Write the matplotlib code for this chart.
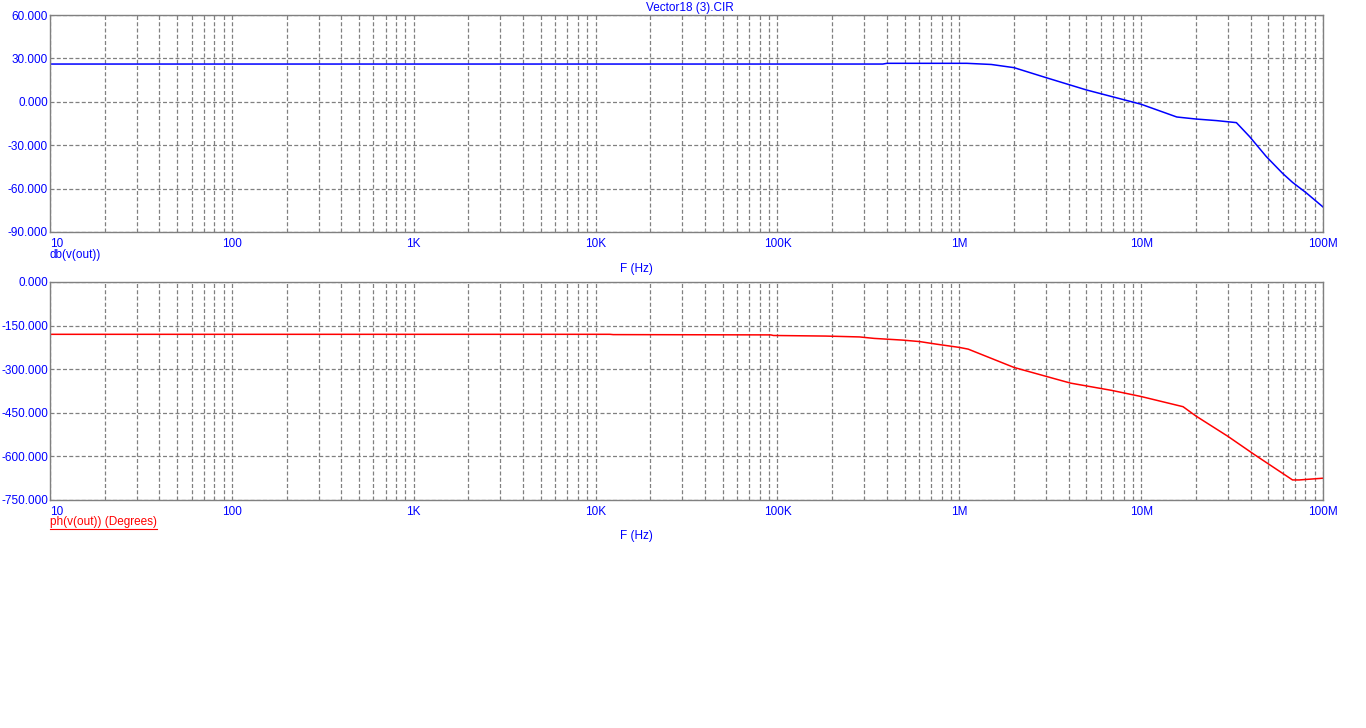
import matplotlib
matplotlib.use("Agg")
import matplotlib.pyplot as plt
from matplotlib.lines import Line2D
import numpy as np

plt.rcParams['font.family'] = ['Liberation Sans', 'DejaVu Sans']

# magnitude trace (dB)
f_db = [10, 380e3, 400e3, 1.1e6, 1.5e6, 2e6, 3e6, 5e6, 10e6, 15.7e6, 20e6, 26e6,
        33.4e6, 39.5e6, 48.8e6, 60e6, 68e6, 81e6, 100e6]
db = [26.1, 26.1, 26.6, 26.6, 25.8, 23.6, 16.7, 8.2, -1.7, -10.5, -11.9, -13.0,
      -14.4, -24.1, -37.9, -49.5, -55.7, -63.0, -72.7]

# phase trace (degrees)
f_ph = [10, 12e3, 12.5e3, 92e3, 95e3, 184e3, 283e3, 340e3, 490e3, 606e3, 733e3,
        1e6, 1.12e6, 2e6, 3.4e6, 4.1e6, 6.9e6, 10e6, 17e6, 20e6, 30e6, 42e6,
        68e6, 74e6, 100e6]
ph = [-180, -180, -181, -182, -184, -186, -189, -194, -200, -205, -213,
      -225, -231, -294, -334, -348, -373, -394, -429, -461, -531, -594,
      -681, -681, -675]

xticks = [1e1, 1e2, 1e3, 1e4, 1e5, 1e6, 1e7, 1e8]
xlabels = ['10', '100', '1K', '10K', '100K', '1M', '10M', '100M']
db_ticks = [60, 30, 0, -30, -60, -90]
ph_ticks = [0, -150, -300, -450, -600, -750]

W, H = 1366, 728
fig = plt.figure(figsize=(W / 100, H / 100), dpi=100)
ax1 = fig.add_axes([50 / W, 1 - 232 / H, 1273 / W, 217 / H])
ax2 = fig.add_axes([50 / W, 1 - 500 / H, 1273 / W, 218 / H])

blue = '#0000ff'
red = '#ff0000'
grey = '#808080'
fs = 8.5

def style(ax, yt):
    ax.set_xscale('log')
    ax.set_xlim(10, 1e8)
    ax.set_ylim(yt[-1], yt[0])
    ax.set_yticks(yt)
    ax.set_yticklabels(['%.3f' % v for v in yt])
    ax.set_xticks(xticks)
    ax.set_xticklabels(xlabels)
    ax.xaxis.set_minor_locator(matplotlib.ticker.LogLocator(base=10, subs=np.arange(2, 10)))
    ax.xaxis.set_minor_formatter(matplotlib.ticker.NullFormatter())
    ax.grid(True, which='both', axis='x', color=grey, lw=0.9, ls=(0, (3.2, 1.8)))
    ax.grid(True, which='major', axis='y', color=grey, lw=0.9, ls=(0, (3.2, 1.8)))
    ax.tick_params(which='both', length=0, labelsize=fs, labelcolor=blue)
    ax.tick_params(axis='y', pad=1.5)
    ax.tick_params(axis='x', pad=4)
    for s in ax.spines.values():
        s.set_color(grey)
        s.set_linewidth(1)
    labs = ax.get_xticklabels()
    labs[0].set_ha('left')

style(ax1, db_ticks)
style(ax2, ph_ticks)

ax1.plot(f_db, db, color=blue, lw=1.1)
ax2.plot(f_ph, ph, color=red, lw=1.1)

fig.text(690 / W, 1 - 8 / H, 'Vector18 (3).CIR', color=blue, fontsize=fs, ha='center', va='center')
fig.text(50 / W, 1 - 255 / H, 'db(v(out))', color=blue, fontsize=fs, ha='left', va='center')
fig.text(636 / W, 1 - 269 / H, 'F (Hz)', color=blue, fontsize=fs, ha='center', va='center')
t = fig.text(50 / W, 1 - 522 / H, 'ph(v(out)) (Degrees)', color=red, fontsize=fs, ha='left', va='center')
fig.text(636 / W, 1 - 536 / H, 'F (Hz)', color=blue, fontsize=fs, ha='center', va='center')

# underline the phase trace name
fig.canvas.draw()
bb = t.get_window_extent()
yline = (bb.y0 - 1) / H
fig.add_artist(Line2D([bb.x0 / W, bb.x1 / W], [yline, yline], color=red, lw=0.8))

fig.savefig('out.png', dpi=100)
